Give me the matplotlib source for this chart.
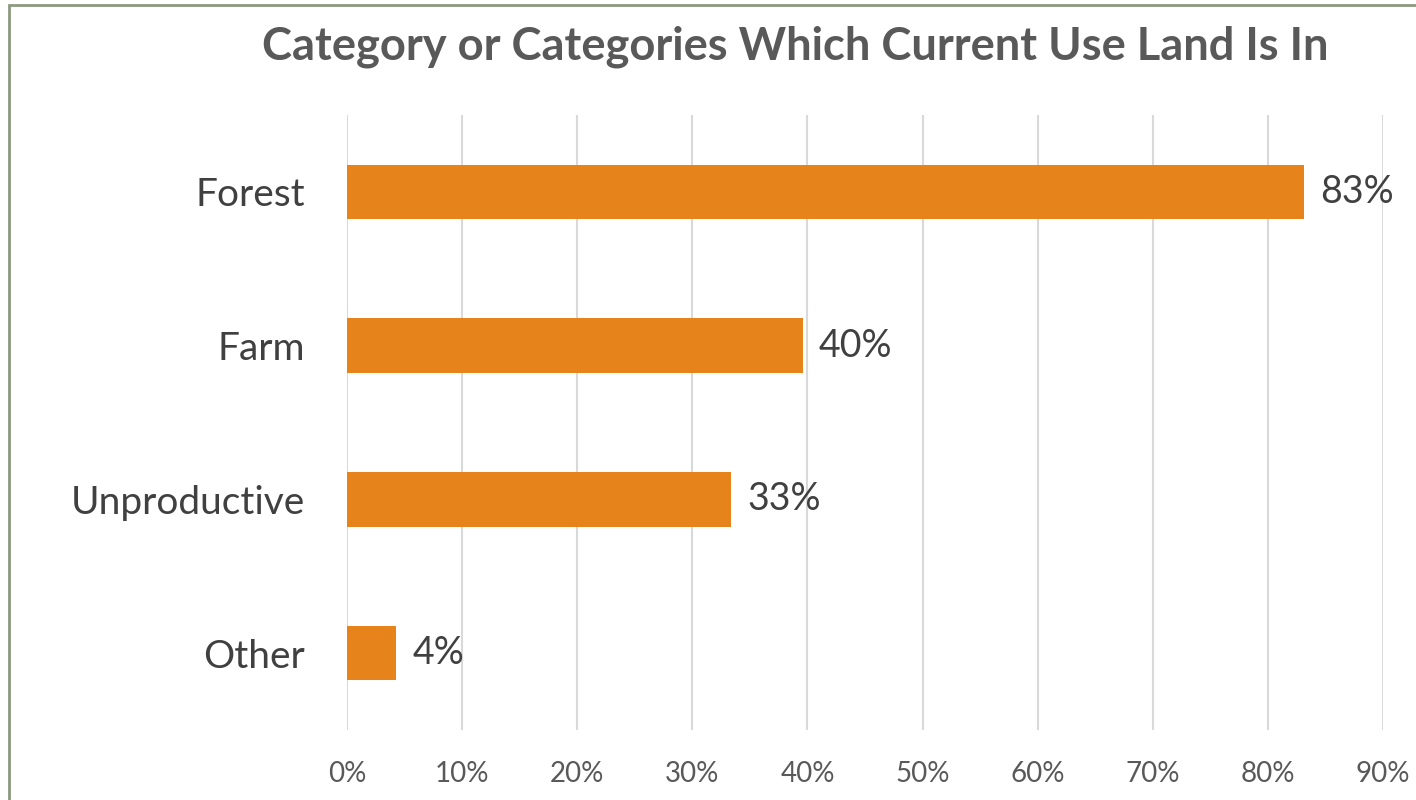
import matplotlib.pyplot as plt
from matplotlib.patches import Rectangle
from matplotlib.ticker import FuncFormatter

# Data
categories = ['Forest', 'Farm', 'Unproductive', 'Other']
values = [83.1, 39.6, 33.4, 4.3]
labels = ['83%', '40%', '33%', '4%']
ticks = [0, 10, 20, 30, 40, 50, 60, 70, 80, 90]

plt.rcParams['font.family'] = ['Lato', 'DejaVu Sans']

fig = plt.figure(figsize=(14.16, 8), dpi=100)
ax = fig.add_axes([347 / 1416, 70 / 800, (1383 - 347) / 1416, 615 / 800])

# Bars, first category on top
ypos = list(range(len(categories)))[::-1]
ax.barh(ypos, values, height=0.355, color='#E6831A', zorder=3)
for y, v, lab in zip(ypos, values, labels):
    ax.text(v + 1.4, y, lab, va='center', ha='left', fontsize=27, color='#404040')

ax.set_xlim(0, 90)
ax.set_ylim(-0.5, len(categories) - 0.5)
ax.set_xticks(ticks)
ax.xaxis.set_major_formatter(FuncFormatter(lambda x, p: '%d%%' % x))
ax.set_yticks(ypos)
ax.set_yticklabels(categories)
ax.tick_params(axis='x', length=0, labelsize=20, labelcolor='#595959', pad=22)
ax.tick_params(axis='y', length=0, labelsize=28, labelcolor='#404040', pad=30)
ax.grid(axis='x', color='#D9D9D9', linewidth=1.5, zorder=0)
for s in ax.spines.values():
    s.set_visible(False)

fig.text(795 / 1416, 1 - 47 / 800, 'Category or Categories Which Current Use Land Is In',
         ha='center', va='center', fontsize=32.6, fontweight='bold', color='#595959')

# Outer frame, cut off on right and bottom
fig.patches.append(Rectangle((9 / 1416, -0.05), 1.1, 1 - 5 / 800 + 0.05, transform=fig.transFigure,
                             fill=False, edgecolor='#8C9B7E', linewidth=2))

fig.savefig('out.png', dpi=100)
